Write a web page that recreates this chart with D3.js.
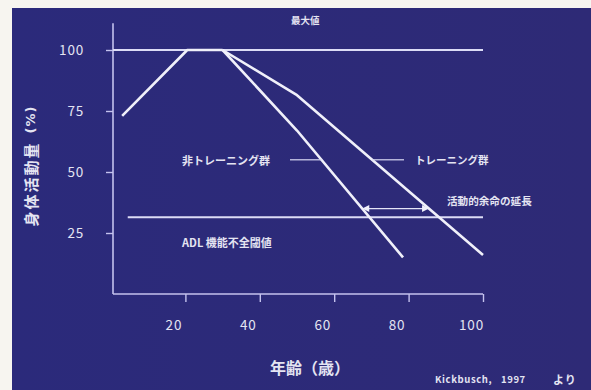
<!DOCTYPE html>
<html>
<head>
<meta charset="utf-8">
<script src="https://cdn.jsdelivr.net/npm/d3@7"></script>
<style>
  html, body { margin: 0; padding: 0; background: #f7f5f0; }
  svg { display: block; }
  text { font-family: "Noto Sans CJK JP", "Noto Sans", sans-serif; }
</style>
</head>
<body>
<svg id="chart" width="591" height="390"></svg>
<script>
// Physical activity level (%) by age (years)
const riseAge = [3, 20.5, 30];
const riseVal = [73, 100, 100];
const nonTrainingAge = [30, 50, 78.5];
const nonTrainingVal = [100, 67, 15];
const trainingAge = [30, 50, 100];
const trainingVal = [100, 81.5, 16];

const maxLevel = 100;            // 最大値
const adlThreshold = 31.5;       // ADL 機能不全閾値
const adlStartAge = 4.5;
const extensionLevel = 35;       // level at which the gain in active life is marked

const xTicks = [20, 40, 60, 80, 100];
const yTicks = [25, 50, 75, 100];

const svg = d3.select("#chart");
const W = 591, H = 390;

// slide panel
const defs = svg.append("defs");
const grad = defs.append("linearGradient").attr("id", "bg").attr("x1", 0).attr("x2", 1).attr("y1", 0).attr("y2", 0);
grad.append("stop").attr("offset", "0%").attr("stop-color", "#2b2a7b");
grad.append("stop").attr("offset", "100%").attr("stop-color", "#2e2a76");
svg.append("rect").attr("x", 12).attr("y", 8).attr("width", W - 12).attr("height", H - 8).attr("fill", "url(#bg)");

const x = d3.scaleLinear().domain([0, 100]).range([111, 483]);
const y = d3.scaleLinear().domain([0, 100]).range([294, 50]);

const axisColor = "#c4c2ee";
const lineColor = "#f0f0fa";
const textColor = "#e4e4f2";

// axis lines
svg.append("line").attr("x1", 113).attr("x2", 113).attr("y1", y(111)).attr("y2", y(0))
  .attr("stroke", axisColor).attr("stroke-width", 1.6);
svg.append("line").attr("x1", 113).attr("x2", x(100)).attr("y1", y(0)).attr("y2", y(0))
  .attr("stroke", axisColor).attr("stroke-width", 1.6);

const yAxis = svg.append("g").attr("transform", "translate(113,0)")
  .call(d3.axisLeft(y).tickValues(yTicks).tickSize(7).tickPadding(22).tickSizeOuter(0));
yAxis.select(".domain").remove();
yAxis.selectAll(".tick line").attr("stroke", axisColor).attr("stroke-width", 1.4);
yAxis.selectAll(".tick text").attr("fill", textColor).attr("font-size", 13.5)
  .attr("font-family", "'DejaVu Sans', sans-serif").attr("letter-spacing", 0.8);

const xAxis = svg.append("g").attr("transform", `translate(0,${y(0)})`)
  .call(d3.axisBottom(x).tickValues(xTicks).tickSize(8).tickPadding(18).tickSizeOuter(0));
xAxis.select(".domain").remove();
xAxis.selectAll(".tick line").attr("stroke", axisColor).attr("stroke-width", 1.4);
xAxis.selectAll(".tick text").attr("fill", textColor).attr("font-size", 13.5)
  .attr("dx", -12).attr("font-family", "'DejaVu Sans', sans-serif").attr("letter-spacing", 0.8);

// reference levels
svg.append("line").attr("x1", 113).attr("x2", x(100)).attr("y1", y(maxLevel)).attr("y2", y(maxLevel))
  .attr("stroke", "#dcdcf6").attr("stroke-width", 1.8);
svg.append("line").attr("x1", x(adlStartAge)).attr("x2", x(100)).attr("y1", y(adlThreshold)).attr("y2", y(adlThreshold))
  .attr("stroke", "#dcdcf6").attr("stroke-width", 2);

// curves
const line = d3.line().x(d => x(d[0])).y(d => y(d[1]));
const curve = (ages, vals) => ages.map((a, i) => [a, vals[i]]);
[curve(riseAge, riseVal), curve(nonTrainingAge, nonTrainingVal), curve(trainingAge, trainingVal)]
  .forEach(pts => svg.append("path").attr("d", line(pts)).attr("fill", "none")
    .attr("stroke", lineColor).attr("stroke-width", 2.6).attr("stroke-linejoin", "round"));

// age at which a polyline reaches a given level
function ageAt(ages, vals, level) {
  for (let i = 0; i < ages.length - 1; i++) {
    const v0 = vals[i], v1 = vals[i + 1];
    if ((v0 - level) * (v1 - level) <= 0 && v0 !== v1) {
      return ages[i] + (level - v0) / (v1 - v0) * (ages[i + 1] - ages[i]);
    }
  }
  return null;
}

// double-headed arrow between the two groups
const aL = x(ageAt(nonTrainingAge, nonTrainingVal, extensionLevel));
const aR = x(ageAt(trainingAge, trainingVal, extensionLevel));
const ay = y(extensionLevel);
svg.append("line").attr("x1", aL + 5).attr("x2", aR - 5).attr("y1", ay).attr("y2", ay)
  .attr("stroke", "#e4e4f6").attr("stroke-width", 1.4);
svg.append("path").attr("d", `M${aL},${ay} L${aL + 7},${ay - 3.5} L${aL + 7},${ay + 3.5} Z`).attr("fill", "#f0f0fa");
svg.append("path").attr("d", `M${aR},${ay} L${aR - 7},${ay - 3.5} L${aR - 7},${ay + 3.5} Z`).attr("fill", "#f0f0fa");

// leader lines to group labels
const leaderLevel = 55;
const ntx = x(ageAt(nonTrainingAge, nonTrainingVal, leaderLevel));
const trx = x(ageAt(trainingAge, trainingVal, leaderLevel));
svg.append("line").attr("x1", 290).attr("x2", ntx).attr("y1", y(leaderLevel)).attr("y2", y(leaderLevel))
  .attr("stroke", "#d8d8f2").attr("stroke-width", 1.2);
svg.append("line").attr("x1", trx).attr("x2", 404).attr("y1", y(leaderLevel)).attr("y2", y(leaderLevel))
  .attr("stroke", "#d8d8f2").attr("stroke-width", 1.2);

// labels
function label(txt, px, py, size, opts = {}) {
  return svg.append("text").attr("x", px).attr("y", py).attr("fill", opts.fill || textColor)
    .attr("font-size", size).attr("font-weight", opts.weight || 700)
    .attr("dominant-baseline", "central").attr("text-anchor", opts.anchor || "start")
    .attr("letter-spacing", opts.ls || 0).text(txt);
}
label("最大値", 291, 20, 9.5);
label("非トレーニング群", 182, y(leaderLevel), 11);
label("トレーニング群", 415, y(leaderLevel), 10.5);
label("活動的余命の延長", 447, 200, 10.6);
label("ADL 機能不全閾値", 182, 242, 11);

// axis titles
label("年齢（歳）", 310, 367, 16, { anchor: "middle" });
const yTitle = svg.append("text").attr("transform", "translate(30,166) rotate(-90)")
  .attr("fill", textColor).attr("font-size", 15).attr("font-weight", 700)
  .attr("text-anchor", "middle").attr("dominant-baseline", "central").attr("letter-spacing", 2);
yTitle.append("tspan").text("身体活動量");
yTitle.append("tspan").attr("dx", 8).attr("font-family", "'DejaVu Sans', sans-serif")
  .attr("font-size", 13).attr("letter-spacing", 1).text("(%)");

// source
const src = svg.append("text").attr("y", 379).attr("dominant-baseline", "central")
  .attr("fill", textColor).attr("font-size", 9.5).attr("font-weight", 700).attr("letter-spacing", 0.6);
src.append("tspan").attr("x", 435).text("Kickbusch,");
src.append("tspan").attr("x", 501).text("1997");
src.append("tspan").attr("x", 553).attr("font-size", 11).attr("letter-spacing", 1).text("より");
</script>
</body>
</html>
